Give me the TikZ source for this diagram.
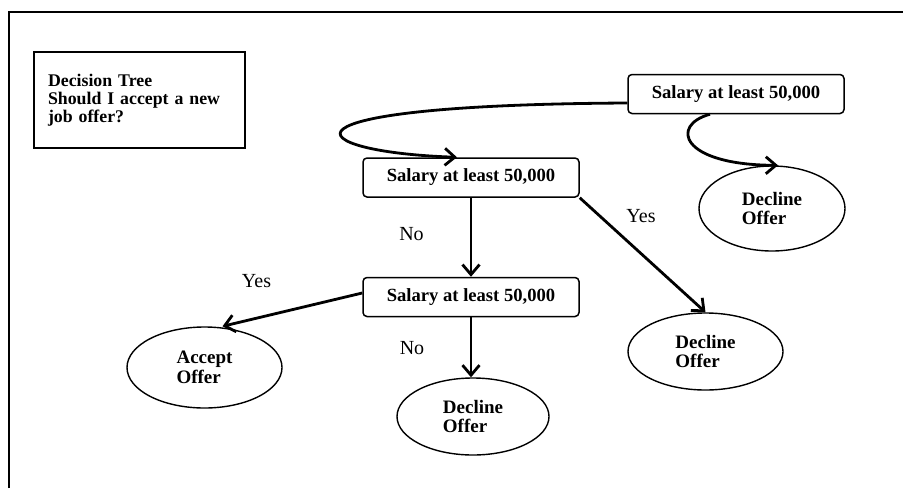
\documentclass[tikz,border=0pt]{standalone}
\usepackage{fontspec}
\setmainfont{Liberation Serif}
\usetikzlibrary{arrows.meta,shapes.geometric}

\begin{document}
\begin{tikzpicture}[x=1pt,y=-1pt,
  titlebox/.style={draw, line width=1.5pt, minimum height=96pt, text width=183pt,
    inner xsep=14pt, inner ysep=0pt, align=left,
    font=\bfseries\fontsize{17.8}{18}\selectfont},
  salbox/.style={draw, line width=1.5pt, rounded corners=4pt, minimum width=216pt,
    minimum height=39pt, inner sep=0pt, font=\bfseries\fontsize{18.6}{19}\selectfont},
  leaf/.style={draw, ellipse, line width=1.4pt, inner sep=0pt, align=left,
    font=\bfseries\fontsize{19}{19.5}\selectfont},
  lbl/.style={inner sep=0pt, font=\fontsize{20}{21}\selectfont},
  link/.style={line width=2.8pt, -{Straight Barb[length=10pt,width=17pt]}}
]
\path[use as bounding box] (0,0) rectangle (903,488);

% outer frame, open towards the right and bottom edges
\draw[line width=2pt] (9,488) -- (9,12) -- (903,12);

% heading
\node[titlebox] (title) at (139.5,100) {Decision Tree\\Should I accept a new\\job offer?};

% decision boxes
\node[salbox] (tr) at (736,94)    {Salary at least 50,000};
\node[salbox] (m1) at (471,177.5) {Salary at least 50,000};
\node[salbox] (m2) at (471,297)   {Salary at least 50,000};

% outcomes
\node[leaf, minimum width=146pt, minimum height=85pt] (dr1) at (772,208.5)   {Decline\\Offer};
\node[leaf, minimum width=155pt, minimum height=77pt] (dr2) at (705.5,351.5) {Decline\\Offer};
\node[leaf, minimum width=155pt, minimum height=81pt] (acc) at (204.5,367.5) {Accept\\Offer};
\node[leaf, minimum width=152pt, minimum height=77pt] (dr3) at (473,416.5)   {Decline\\Offer};

% connectors
\draw[link] ([yshift=-9pt]tr.west) .. controls (255,105) and (300,152) .. ([xshift=-14pt]m1.north);
\draw[link] ([xshift=-26pt]tr.south) .. controls (670,125) and (680,165) .. ([xshift=6pt]dr1.north);
\draw[link] (m1.south) -- (m2.north);
\draw[link] (m1.south east) -- (dr2.north);
\draw[link] ([yshift=4pt]m2.west) -- ([xshift=18pt]acc.north);
\draw[link] (m2.south) -- (m2.south |- dr3.north);

% branch labels
\node[lbl] (no1)  at (411.5,234) {No};
\node[lbl] (yes1) at (641,216)   {Yes};
\node[lbl] (yes2) at (256.5,281) {Yes};
\node[lbl] (no2)  at (412,348)   {No};
\end{tikzpicture}
\end{document}
